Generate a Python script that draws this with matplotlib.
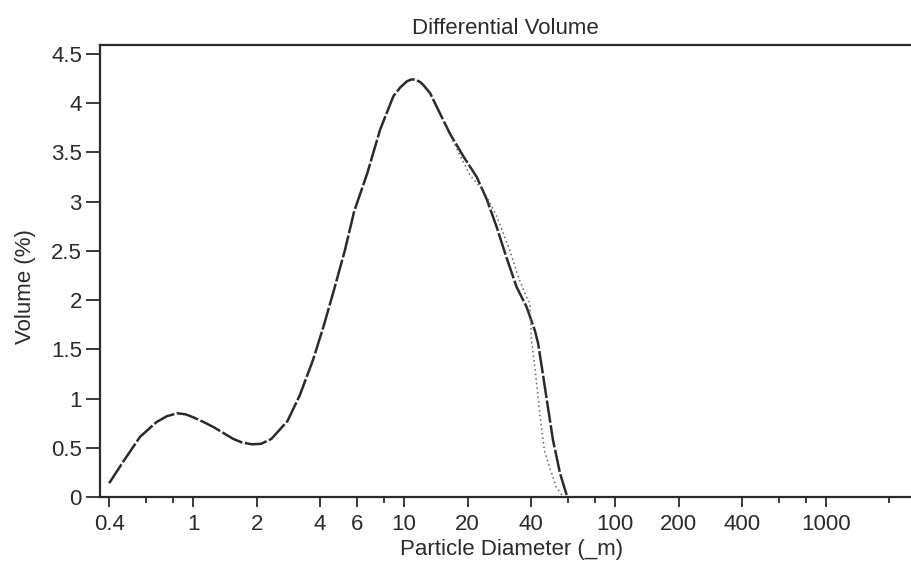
"""Differential volume distribution (particle size analyser printout)."""
import matplotlib
matplotlib.use("Agg")
import matplotlib.pyplot as plt
from matplotlib.ticker import FixedLocator, NullFormatter

# ---------------------------------------------------------------------------
# data
diam_main = [0.40, 0.47, 0.56, 0.67, 0.75, 0.84, 0.92, 1.0, 1.1, 1.25, 1.55, 1.7,
             1.9, 2.1, 2.35, 2.8, 3.2, 3.7, 4.15, 4.65, 5.25, 5.8, 6.7, 7.7, 8.9,
             9.6, 10.3, 10.8, 11.3, 12.0, 12.5, 13.3, 14.3, 16.5, 19.1, 22.1, 24.7,
             27.5, 30.5, 34.2, 38.1, 41.7, 43.2, 45.5, 48.1, 50.8, 54.9, 59.0]
vol_main = [0.14, 0.37, 0.61, 0.76, 0.82, 0.85, 0.84, 0.81, 0.77, 0.71, 0.59, 0.555,
            0.535, 0.54, 0.59, 0.77, 1.03, 1.39, 1.73, 2.10, 2.51, 2.90, 3.29, 3.73, 4.07,
            4.16, 4.22, 4.24, 4.24, 4.21, 4.17, 4.10, 3.96, 3.69, 3.46, 3.25, 3.02,
            2.74, 2.44, 2.13, 1.93, 1.69, 1.56, 1.25, 0.91, 0.58, 0.24, 0.02]

diam_dot = [17.0, 20.5, 24.0, 27.5, 31.8, 35.0, 38.1, 39.5, 40.2, 41.7, 44.2, 46.3,
            49.0, 52.7, 56.8]
vol_dot = [3.62, 3.27, 3.10, 2.85, 2.50, 2.22, 2.03, 1.97, 1.59, 1.32, 0.81, 0.47,
           0.30, 0.10, 0.0]

xtick_major = [0.4, 1, 2, 4, 6, 10, 20, 40, 100, 200, 400, 1000]
xtick_labels = ["0.4", "1", "2", "4", "6", "10", "20", "40", "100", "200", "400", "1000"]
xtick_minor = [0.6, 0.8, 8, 60, 80, 600, 800, 2000]
ytick_vals = [0, 0.5, 1, 1.5, 2, 2.5, 3, 3.5, 4, 4.5]
ytick_labels = ["0", "0.5", "1", "1.5", "2", "2.5", "3", "3.5", "4", "4.5"]

INK = "#2b2b2b"
plt.rcParams["font.family"] = ["Liberation Sans", "DejaVu Sans"]
plt.rcParams["font.size"] = 16

W, H = 911, 563
fig = plt.figure(figsize=(W / 100, H / 100), dpi=100)
ax = fig.add_axes([100 / W, (H - 497) / H, (W - 100) / W, (497 - 45) / H])

ax.plot(diam_main, vol_main, color=INK, lw=1.8, ls=(0, (9, 1)))
ax.plot(diam_dot, vol_dot, color="#666666", lw=1.1, ls=(0, (1, 2)))

ax.set_xscale("log")
ax.set_xlim(0.362, 2530)
ax.set_ylim(0, 4.59)

ax.xaxis.set_major_locator(FixedLocator(xtick_major))
ax.xaxis.set_minor_locator(FixedLocator(xtick_minor))
ax.set_xticklabels(xtick_labels)
ax.xaxis.set_minor_formatter(NullFormatter())
ax.set_yticks(ytick_vals)
ax.set_yticklabels(ytick_labels)

ax.tick_params(axis="y", which="major", length=10, width=1.3, color=INK,
               labelcolor=INK, pad=3)
ax.tick_params(axis="x", which="major", length=7, width=1.3, color=INK,
               labelcolor=INK, pad=5)
ax.tick_params(axis="x", which="minor", length=4, width=1.3, color=INK)

for side in ("left", "bottom", "top"):
    ax.spines[side].set_color(INK)
    ax.spines[side].set_linewidth(1.6)
ax.spines["right"].set_visible(False)

ax.set_title("Differential Volume", color=INK, fontsize=16, pad=8)
ax.set_xlabel("Particle Diameter (_m)", color=INK)
ax.set_ylabel("Volume (%)", color=INK)
ax.xaxis.set_label_coords((512 - 100) / 811, (497 - 549) / 452)
ax.xaxis.label.set_va("center")
ax.yaxis.set_label_coords((25 - 100) / 811, (497 - 287) / 452)
ax.yaxis.label.set_va("center")

fig.savefig("out.png", dpi=100)
